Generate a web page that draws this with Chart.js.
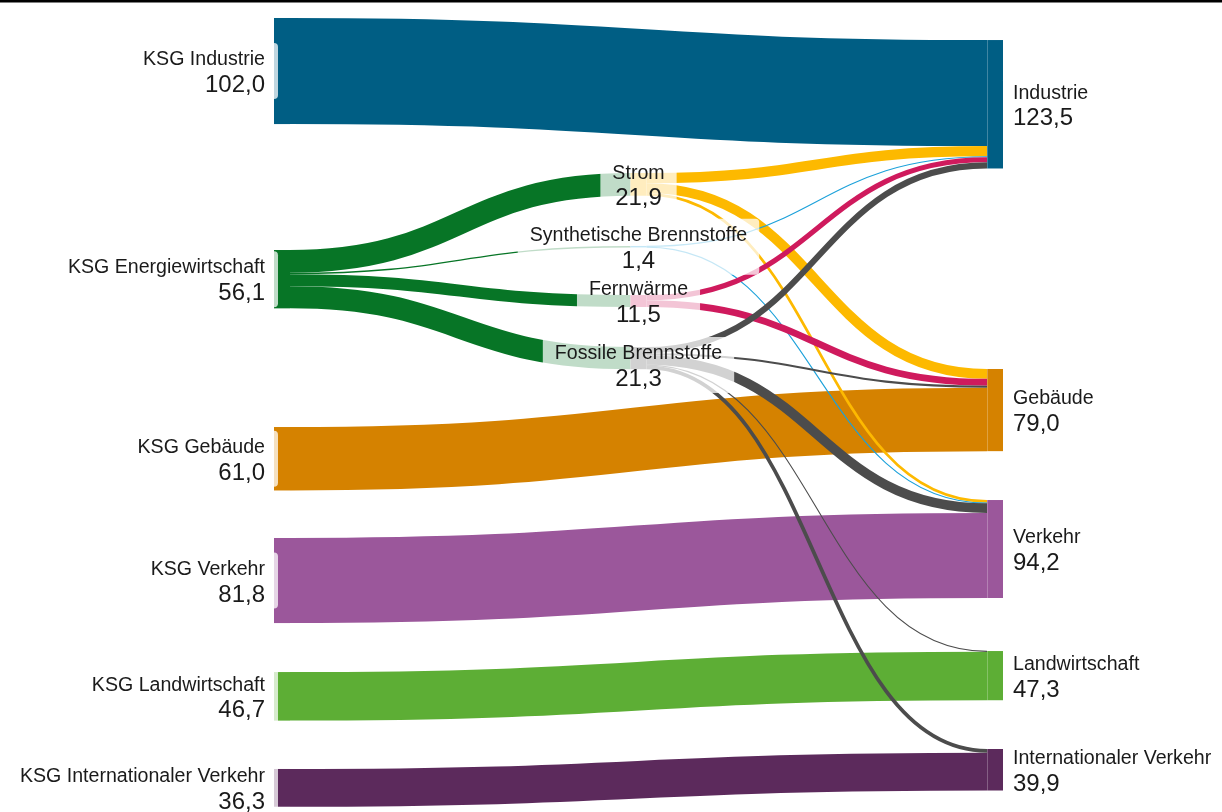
<!DOCTYPE html>
<html>
<head>
<meta charset="utf-8">
<script src="https://cdn.jsdelivr.net/npm/chart.js@4/dist/chart.umd.min.js"></script>
<style>
  html, body { margin: 0; padding: 0; background: #fff; }
  #wrap { width: 1222px; height: 812px; }
</style>
</head>
<body>
<div id="wrap"><canvas id="sankeyChart" width="1222" height="812"></canvas></div>
<script>
// Knoten je Spalte (Namen und Werte)
let quellNamen = ['KSG Industrie', 'KSG Energiewirtschaft', 'KSG Gebäude', 'KSG Verkehr', 'KSG Landwirtschaft', 'KSG Internationaler Verkehr'];
let quellWerte = [102.0, 56.1, 61.0, 81.8, 46.7, 36.3];
let mitteNamen = ['Strom', 'Synthetische Brennstoffe', 'Fernwärme', 'Fossile Brennstoffe'];
let mitteWerte = [21.9, 1.4, 11.5, 21.3];
let zielNamen = ['Industrie', 'Gebäude', 'Verkehr', 'Landwirtschaft', 'Internationaler Verkehr'];
let zielWerte = [123.5, 79.0, 94.2, 47.3, 39.9];

// Flüsse: von -> nach, Wert
let flussVon = [
  'KSG Industrie',
  'KSG Energiewirtschaft', 'KSG Energiewirtschaft', 'KSG Energiewirtschaft', 'KSG Energiewirtschaft',
  'KSG Gebäude', 'KSG Verkehr', 'KSG Landwirtschaft', 'KSG Internationaler Verkehr',
  'Strom', 'Strom', 'Strom',
  'Synthetische Brennstoffe', 'Synthetische Brennstoffe',
  'Fernwärme', 'Fernwärme',
  'Fossile Brennstoffe', 'Fossile Brennstoffe', 'Fossile Brennstoffe', 'Fossile Brennstoffe', 'Fossile Brennstoffe'
];
let flussNach = [
  'Industrie',
  'Strom', 'Synthetische Brennstoffe', 'Fernwärme', 'Fossile Brennstoffe',
  'Gebäude', 'Verkehr', 'Landwirtschaft', 'Internationaler Verkehr',
  'Industrie', 'Gebäude', 'Verkehr',
  'Industrie', 'Verkehr',
  'Industrie', 'Gebäude',
  'Industrie', 'Gebäude', 'Verkehr', 'Landwirtschaft', 'Internationaler Verkehr'
];
let flussWerte = [
  102.0,
  21.9, 1.4, 11.5, 21.3,
  61.0, 81.8, 46.7, 36.3,
  9.8, 9.5, 2.6,
  0.8, 0.6,
  5.0, 6.5,
  5.9, 2.0, 9.2, 0.6, 3.6
];

// Layout: Oberkante der Knoten in Werteinheiten
let quellOben = [17.3, 240.4, 410.6, 517.3, 646.2, 739.4];
let mitteOben = [166.3, 236.5, 283.7, 333.7];
let zielOben = [38.5, 354.8, 480.8, 626.0, 720.2];
let mitteLabelVersatz = [0, 0, 0, 7];

// Farben
let quellFarben = ['#005e84', '#077526', '#d58200', '#9b579b', '#5dae35', '#5c2a5c'];
let mitteFarben = ['#fdb900', '#1ba1da', '#cf1a5d', '#4c4c4c'];
let zielFarben = ['#005e84', '#d58200', '#9b579b', '#5dae35', '#5c2a5c'];

let knotenBreite = 16;
let nameFont = '19.6px "Liberation Sans", Arial, sans-serif';
let wertFont = '24px "Liberation Sans", Arial, sans-serif';

// Knoten aufbauen
let knoten = {};
function spalteAnlegen(namen, werte, oben, farben, spalte, versatz) {
  namen.forEach((name, i) => {
    knoten[name] = { name, value: werte[i], top: oben[i], color: farben[i], col: spalte, shift: versatz ? versatz[i] : 0 };
  });
}
spalteAnlegen(quellNamen, quellWerte, quellOben, quellFarben, 0);
spalteAnlegen(mitteNamen, mitteWerte, mitteOben, mitteFarben, 1, mitteLabelVersatz);
spalteAnlegen(zielNamen, zielWerte, zielOben, zielFarben, 2);

// Flüsse an den Knoten stapeln (sortiert nach Lage des anderen Endes)
let fluesse = flussVon.map((von, i) => ({ source: knoten[von], target: knoten[flussNach[i]], value: flussWerte[i] }));
Object.values(knoten).forEach(k => {
  let y = k.top;
  fluesse.filter(f => f.source === k).sort((a, b) => a.target.top - b.target.top)
    .forEach(f => { f.sy = y; y += f.value; });
  y = k.top;
  fluesse.filter(f => f.target === k).sort((a, b) => a.source.top - b.source.top)
    .forEach(f => { f.ty = y; y += f.value; });
});

function formatWert(v) {
  return v.toFixed(1).replace('.', ',');
}

function roundRect(ctx, x, y, w, h, r) {
  ctx.beginPath();
  ctx.moveTo(x + r, y);
  ctx.arcTo(x + w, y, x + w, y + h, r);
  ctx.arcTo(x + w, y + h, x, y + h, r);
  ctx.arcTo(x, y + h, x, y, r);
  ctx.arcTo(x, y, x + w, y, r);
  ctx.closePath();
}

// Plugin: zeichnet Flüsse, Knoten und Beschriftungen über die Skalen
let sankeyPlugin = {
  id: 'sankeyZeichnen',
  afterDatasetsDraw(chart) {
    let ctx = chart.ctx, xs = chart.scales.x, ys = chart.scales.y;
    ctx.save();

    // Linie oben
    ctx.fillStyle = '#000';
    ctx.fillRect(0, 0, chart.width, 2.5);

    // Flüsse als Kurven mit konstanter Strichbreite
    ctx.lineCap = 'butt';
    fluesse.forEach(f => {
      let x0 = xs.getPixelForValue(f.source.col) + knotenBreite;
      let x1 = xs.getPixelForValue(f.target.col);
      let xm = (x0 + x1) / 2;
      let a0 = ys.getPixelForValue(f.sy), a1 = ys.getPixelForValue(f.sy + f.value);
      let b0 = ys.getPixelForValue(f.ty), b1 = ys.getPixelForValue(f.ty + f.value);
      let ya = (a0 + a1) / 2, yb = (b0 + b1) / 2;
      ctx.beginPath();
      ctx.moveTo(x0, ya);
      ctx.bezierCurveTo(xm, ya, xm, yb, x1, yb);
      ctx.strokeStyle = f.source.color;
      ctx.lineWidth = Math.max(a1 - a0, 1.1);
      ctx.stroke();
    });

    // Knoten
    Object.values(knoten).forEach(k => {
      let x = xs.getPixelForValue(k.col);
      let y0 = ys.getPixelForValue(k.top), y1 = ys.getPixelForValue(k.top + k.value);
      ctx.fillStyle = k.color;
      ctx.fillRect(x, y0, knotenBreite, y1 - y0);
      if (k.col === 2) {
        ctx.fillStyle = 'rgba(255,255,255,0.25)';
        ctx.fillRect(x, y0, 1, y1 - y0);
      }
    });

    // Beschriftungen mit halbtransparentem Hintergrund
    Object.values(knoten).forEach(k => {
      let x = xs.getPixelForValue(k.col);
      let mitte = (ys.getPixelForValue(k.top) + ys.getPixelForValue(k.top + k.value)) / 2 + k.shift;
      let wert = formatWert(k.value);
      ctx.font = nameFont;
      let wName = ctx.measureText(k.name).width;
      ctx.font = wertFont;
      let wWert = ctx.measureText(wert).width;
      let breite = Math.max(wName, wWert);
      let textX, align, boxL, boxR;
      if (k.col === 0) {
        textX = x - 9; align = 'right';
        boxL = textX - breite - 10; boxR = x + 4;
      } else if (k.col === 1) {
        textX = x + knotenBreite / 2; align = 'center';
        boxL = textX - breite / 2 - 12; boxR = textX + breite / 2 + 12;
      } else {
        textX = x + knotenBreite + 10; align = 'left';
        boxL = x + knotenBreite; boxR = textX + breite + 10;
      }
      ctx.fillStyle = 'rgba(255,255,255,0.75)';
      roundRect(ctx, boxL, mitte - 28, boxR - boxL, 56, 4);
      ctx.fill();

      ctx.fillStyle = '#1a1a1a';
      ctx.textAlign = align;
      ctx.textBaseline = 'alphabetic';
      ctx.font = nameFont;
      ctx.fillText(k.name, textX, mitte - 5.7);
      ctx.font = wertFont;
      ctx.fillText(wert, textX, mitte + 21);
    });

    ctx.restore();
  }
};

// Konfiguration für das Diagramm
let config = {
  type: 'scatter',
  data: { datasets: [] },
  options: {
    responsive: false,
    animation: false,
    devicePixelRatio: 1,
    layout: { padding: { left: 274, right: 235, top: 0, bottom: 0 } },
    scales: {
      x: { type: 'linear', min: 0, max: 2, display: false },
      y: { type: 'linear', min: 0, max: 812 / 1.04, reverse: true, display: false }
    },
    plugins: { legend: { display: false }, tooltip: { enabled: false } }
  },
  plugins: [sankeyPlugin]
};

let ctx = document.getElementById('sankeyChart').getContext('2d');
let sankeyChart = new Chart(ctx, config);
</script>
</body>
</html>
